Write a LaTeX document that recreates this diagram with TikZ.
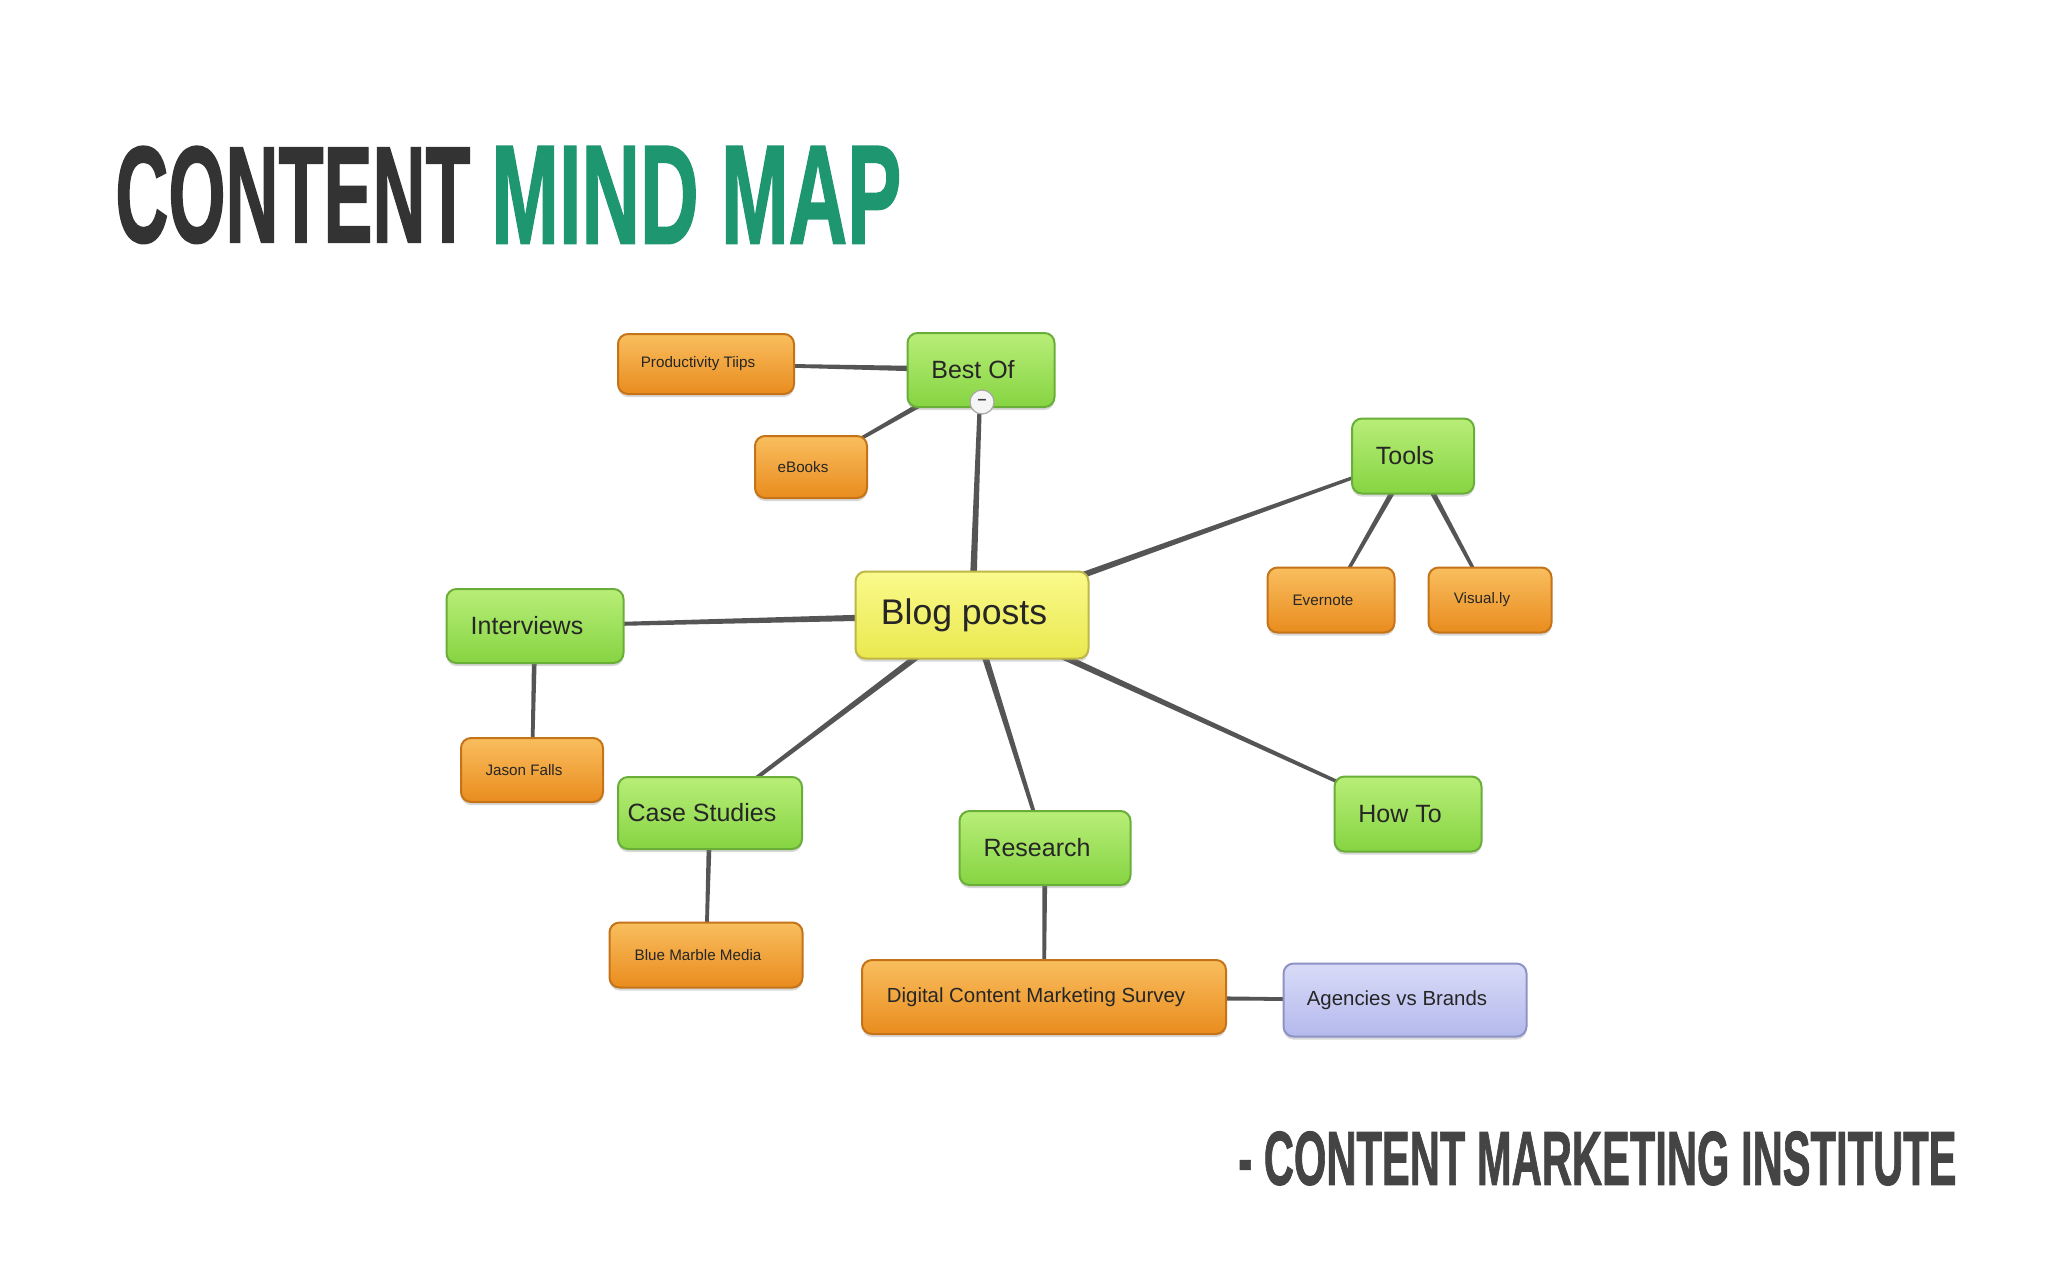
\documentclass[tikz,border=0pt]{standalone}
\usepackage{graphicx}
\usepackage{fontspec}
\setmainfont{Liberation Sans}
\newfontfamily\titlefont[FakeBold=1.5]{Liberation Sans}
\usetikzlibrary{calc,shadows,backgrounds}
\definecolor{orTop}{HTML}{F9BE5E}
\definecolor{orBot}{HTML}{E98C1E}
\definecolor{orLine}{HTML}{C47318}
\definecolor{grTop}{HTML}{B8EE78}
\definecolor{grBot}{HTML}{86D442}
\definecolor{grLine}{HTML}{6AAE3A}
\definecolor{ywTop}{HTML}{FAFA8C}
\definecolor{ywBot}{HTML}{EAE84E}
\definecolor{ywLine}{HTML}{BDB845}
\definecolor{lvTop}{HTML}{D8DBF7}
\definecolor{lvBot}{HTML}{B4B9EC}
\definecolor{lvLine}{HTML}{8D93C6}
\definecolor{connc}{HTML}{555555}
\definecolor{titleDark}{HTML}{333333}
\definecolor{titleGreen}{HTML}{1E9670}
\definecolor{creditc}{HTML}{444444}
\newcommand\tconn[4]{%
  \fill[connc] ($(#1)!#3!90:(#2)$) -- ($(#2)!#4!-90:(#1)$) -- ($(#2)!#4!90:(#1)$) -- ($(#1)!#3!-90:(#2)$) -- cycle;}
\begin{document}
\begin{tikzpicture}[x=0.5pt,y=-0.5pt,
  every node/.style={inner sep=0pt},
  box/.style={rectangle, rounded corners=5pt, line width=1pt, text=black!85,
    execute at begin node={\hspace*{-8pt}},
    drop shadow={shadow xshift=0pt,shadow yshift=-1.5pt,opacity=0.3}},
  grn/.style={box, draw=grLine, top color=grTop, bottom color=grBot, font=\fontsize{12.5}{14}\selectfont},
  org/.style={box, draw=orLine, top color=orTop, bottom color=orBot, font=\fontsize{7.6}{9}\selectfont},
  ylw/.style={box, draw=ywLine, top color=ywTop, bottom color=ywBot, font=\fontsize{17.8}{20}\selectfont},
  lav/.style={box, draw=lvLine, top color=lvTop, bottom color=lvBot, font=\fontsize{10.2}{12}\selectfont},
  sz/.style 2 args={minimum width=#1pt, minimum height=#2pt},
  titletext/.style={anchor=north west}
]
\useasboundingbox (0,0) rectangle (2048,1280);

% nodes
\node[ylw, sz={116.5}{43.5}] (blog) at (972,615) {Blog posts};
\node[grn, sz={73.5}{37}] (bestof) at (981,370) {Best Of};
\node[org, sz={88}{30}] (ptips) at (706,364) {Productivity Tiips};
\node[org, sz={56}{31}] (ebooks) at (811,467) {eBooks};
\node[grn, sz={61}{37.5}] (tools) at (1413,456) {Tools};
\node[org, sz={63.5}{32.5}] (evernote) at (1331,600) {Evernote};
\node[org, sz={61.5}{32.5}] (visually) at (1490,600) {Visual.ly};
\node[grn, sz={88.5}{37}] (interviews) at (535,626) {Interviews};
\node[org, sz={71}{32}] (jason) at (532,770) {Jason Falls};
\node[grn, sz={92}{36}] (case) at (710,813) {Case Studies};
\node[org, sz={96.5}{32.5}] (bluem) at (706,955) {Blue Marble Media};
\node[grn, sz={85.5}{37}] (research) at (1045,848) {Research};
\node[grn, sz={73.5}{37.5}] (howto) at (1408,814) {How To};
\node[org, sz={182}{37}, font=\fontsize{10.2}{12}\selectfont] (dcms) at (1044,997) {Digital Content Marketing Survey};
\node[lav, sz={121.5}{36.5}] (agencies) at (1405,1000) {Agencies vs Brands};
\node[circle, draw=black!35, line width=0.6pt, fill=black!4, minimum size=12pt, text=black!75, font=\bfseries\fontsize{8}{8}\selectfont] (minus) at (982,402) {\raisebox{0.3pt}{--}};

% titles
\node[titletext, text=titleDark] (t1) at (115,146) {\resizebox*{177.5pt}{48.5pt}{\titlefont\bfseries CONTENT}};
\node[titletext, text=titleGreen] (t2) at (491,146) {\resizebox*{205pt}{48.5pt}{\titlefont\bfseries MIND MAP}};
\node[titletext, text=creditc] (credit) at (1238,1131) {\resizebox*{359pt}{27pt}{\titlefont\bfseries - CONTENT MARKETING INSTITUTE}};

% connectors
\begin{pgfonlayer}{background}
\fill[white] (0,0) rectangle (2048,1280);
\tconn{blog}{bestof}{1.8pt}{0.9pt}
\tconn{blog}{tools}{1.8pt}{0.7pt}
\tconn{blog}{interviews}{1.8pt}{0.8pt}
\tconn{blog}{case}{1.8pt}{0.8pt}
\tconn{blog}{research}{1.8pt}{0.8pt}
\tconn{blog}{howto}{1.8pt}{0.7pt}
\tconn{bestof}{ptips}{1.6pt}{0.6pt}
\tconn{bestof}{ebooks}{1.6pt}{0.6pt}
\tconn{tools}{evernote}{1.5pt}{0.7pt}
\tconn{tools}{visually}{1.5pt}{0.7pt}
\tconn{interviews}{jason}{1.3pt}{0.8pt}
\tconn{case}{bluem}{1.3pt}{0.8pt}
\tconn{research}{dcms}{1.3pt}{0.8pt}
\tconn{dcms}{agencies}{1.5pt}{0.6pt}
\end{pgfonlayer}
\end{tikzpicture}
\end{document}
